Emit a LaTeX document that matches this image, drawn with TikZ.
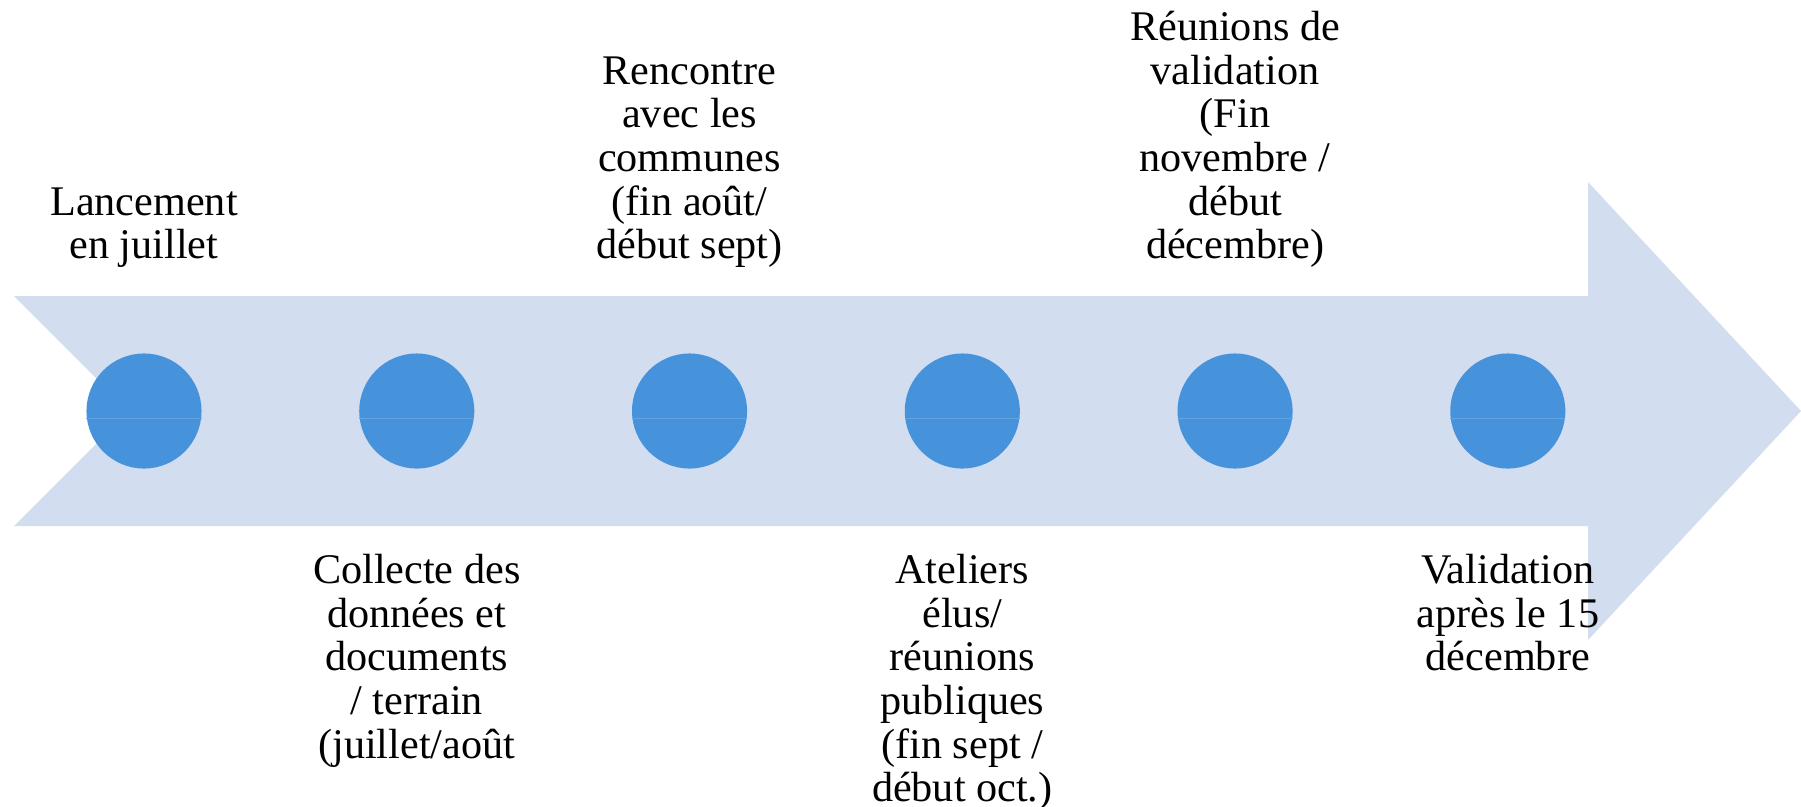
\documentclass[tikz,border=0pt]{standalone}
\usepackage{fontspec}
\setmainfont{Liberation Serif}
\usepackage{tikz}
\usetikzlibrary{positioning}
\definecolor{arrowfill}{HTML}{D2DDEF}
\definecolor{dotfill}{HTML}{4793DB}
\tikzset{node distance=2.726cm, auto}

\begin{document}
\begin{tikzpicture}[x=0.01cm, y=-0.01cm,
		dot/.style={circle, fill=dotfill, minimum size=1.15cm, inner sep=0pt, outer sep=0pt},
		toplabel/.style={align=center, inner sep=0pt, text depth=0pt, font=\fontsize{12}{12.4}\selectfont},
		botlabel/.style={align=center, inner sep=0pt, font=\fontsize{12}{12.4}\selectfont}]
		\useasboundingbox (0,0) rectangle (1801,806);
		\fill[arrowfill] (14,296) -- (1588,296) -- (1588,182) -- (1801,411) -- (1588,640) -- (1588,526) -- (14,526) -- (129,411) -- cycle;
		\node[dot](c1) at (144,411){};
		\node[dot](c2)[right of=c1]{};
		\node[dot](c3)[right of=c2]{};
		\node[dot](c4)[right of=c3]{};
		\node[dot](c5)[right of=c4]{};
		\node[dot](c6)[right of=c5]{};
		\foreach \c in {c1,c2,c3,c4,c5,c6}
			\draw[dotfill!85!white, line width=0.25pt]([yshift=-0.07cm]\c.west) -- ([yshift=-0.07cm]\c.east);
		\node[toplabel](t1)[above=0.94cm of c1]{Lancement\\en juillet};
		\node[toplabel](t3)[above=0.94cm of c3]{Rencontre\\avec les\\communes\\(fin août/\\début sept)};
		\node[toplabel](t5)[above=0.94cm of c5]{Réunions de\\validation\\(Fin\\novembre /\\début\\décembre)};
		\node[botlabel](b2)[below=0.85cm of c2]{Collecte des\\données et\\documents\\/ terrain\\(juillet/août};
		\node[botlabel](b4)[below=0.85cm of c4]{Ateliers\\élus/\\réunions\\publiques\\(fin sept /\\début oct.)};
		\node[botlabel](b6)[below=0.85cm of c6]{Validation\\après le 15\\décembre};
	\end{tikzpicture}
\end{document}
